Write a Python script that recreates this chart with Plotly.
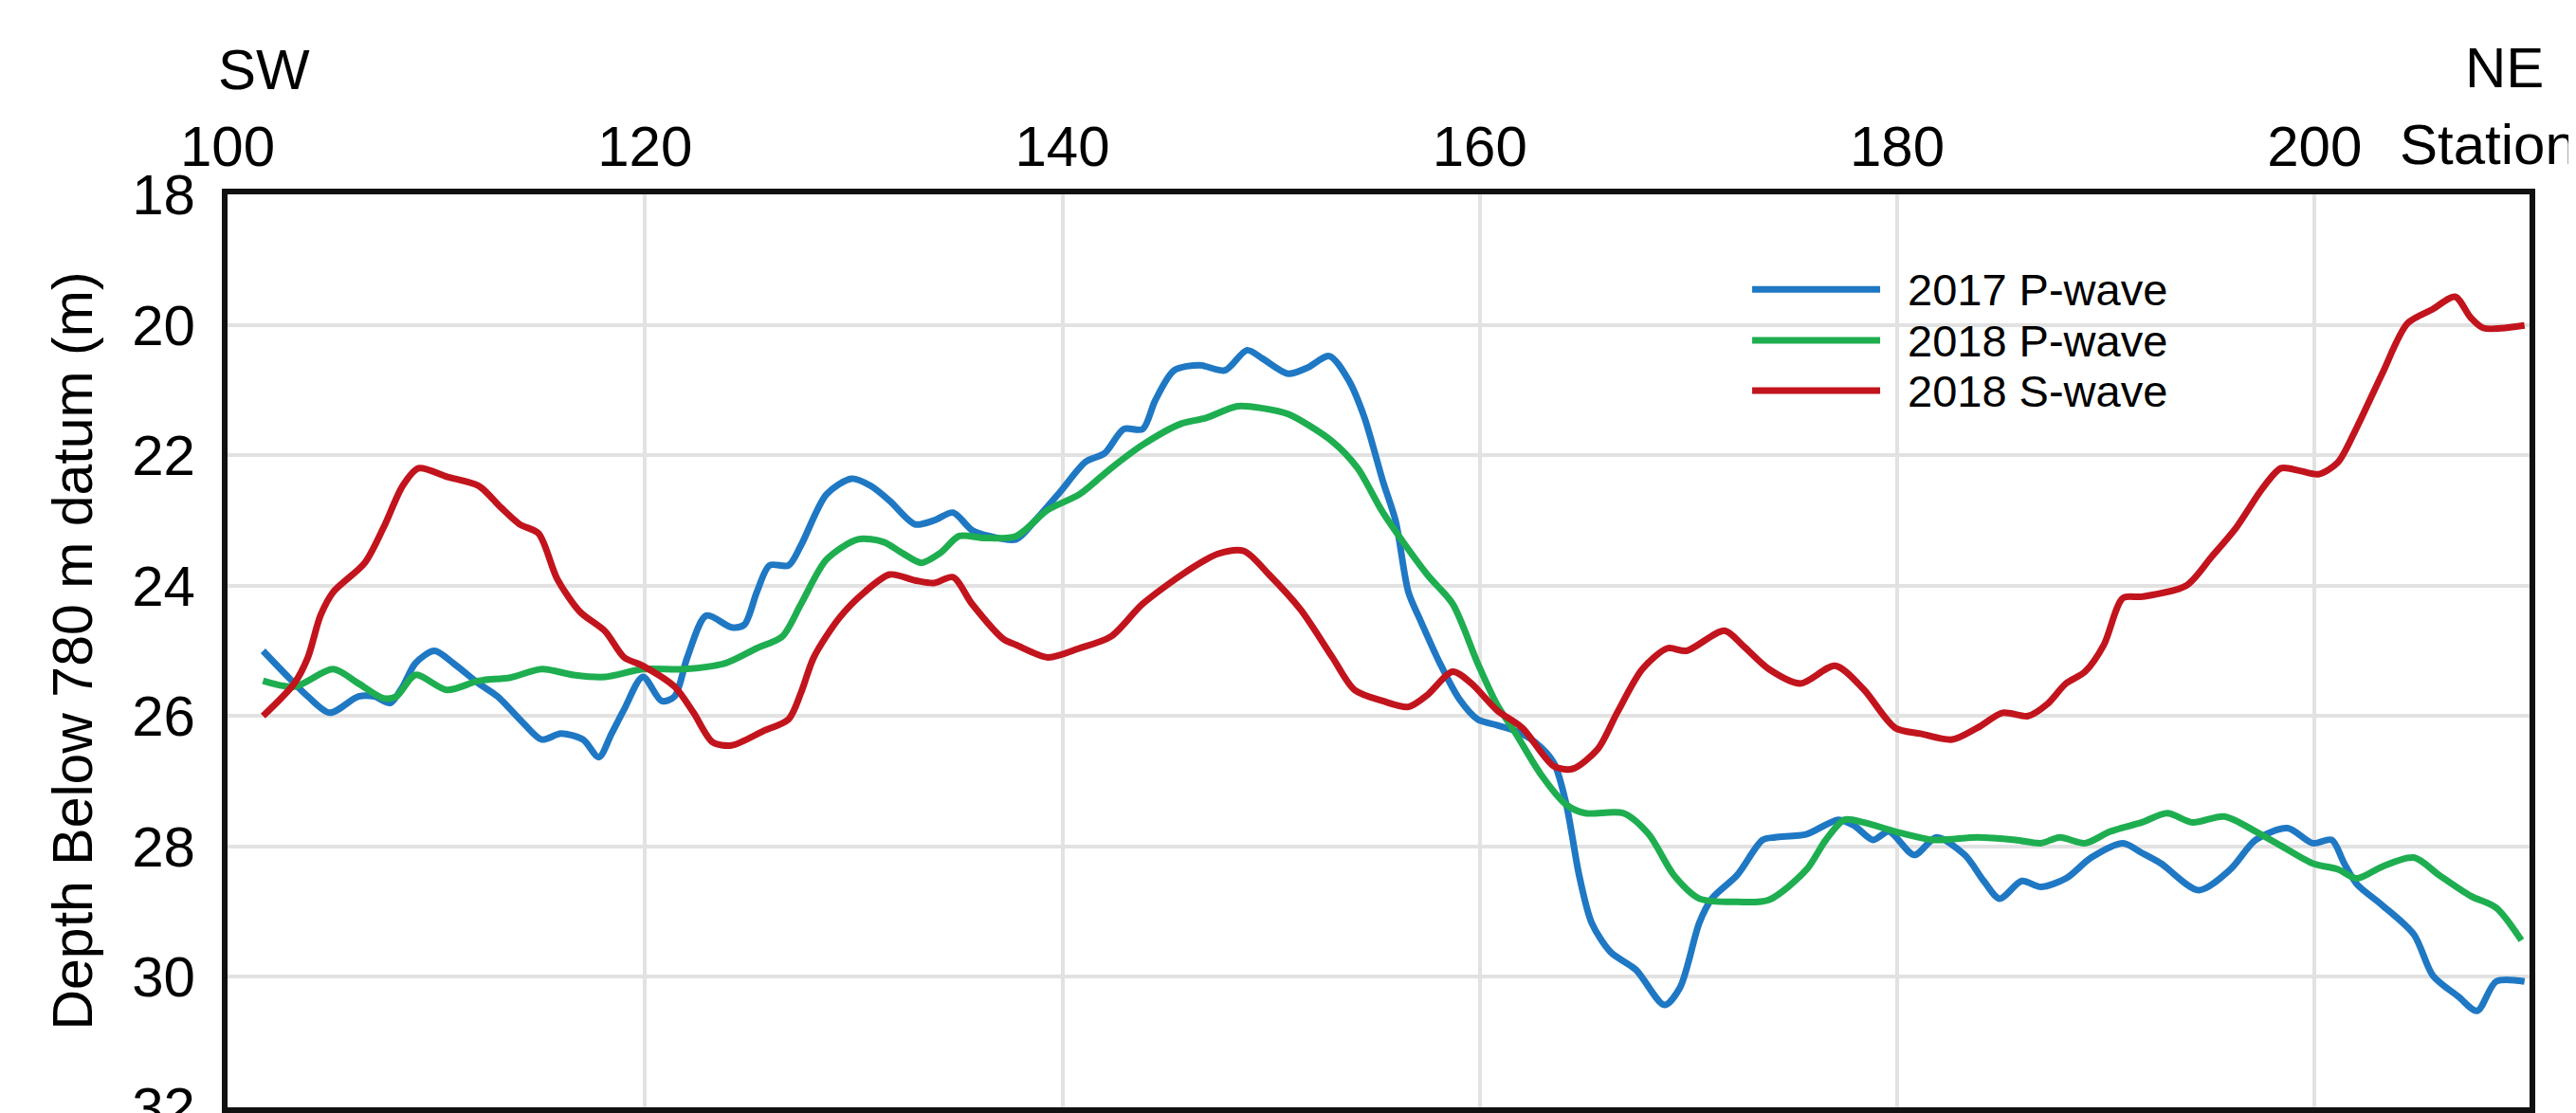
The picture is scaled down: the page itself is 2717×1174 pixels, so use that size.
import plotly.graph_objects as go

# ---- data (station, depth below 780 m datum) ----
p2017_x = [101.7, 102.9, 103.85, 104.9, 106.27, 107.03, 107.79, 108.39, 109.0, 109.91,
           110.82, 112.03, 112.94, 114.15, 115.06, 115.97, 117.03, 117.79, 118.4, 119.0,
           119.9, 120.8, 121.42, 122.03, 122.94, 124.15, 124.76, 125.36, 125.97, 126.88,
           127.48, 128.7, 129.9, 130.82, 131.73, 132.94, 133.85, 134.76, 135.67, 136.5,
           137.79, 138.7, 139.9, 141.12, 142.03, 142.94, 143.85, 144.45, 145.36, 146.58,
           147.79, 148.85, 149.6, 150.82, 151.73, 152.79, 153.7, 154.45, 155.36, 155.97,
           156.58, 157.18, 158.09, 159.0, 159.9, 160.82, 161.73, 162.64, 163.55, 164.15,
           164.76, 165.36, 166.27, 167.48, 168.85, 169.6, 170.52, 171.12, 172.33, 173.55,
           174.15, 175.67, 177.18, 177.94, 178.85, 179.6, 180.82, 181.88, 183.24, 184.15,
           184.91, 185.97, 186.88, 188.09, 189.3, 190.82, 191.73, 192.64, 194.45, 195.97,
           197.18, 198.7, 199.91, 200.82, 201.42, 202.03, 203.24, 204.76, 205.67, 206.88,
           207.79, 208.7, 210.06]
p2017_y = [25.0, 25.4, 25.7, 25.95, 25.7, 25.7, 25.8, 25.55, 25.19, 25.0,
           25.19, 25.5, 25.7, 26.1, 26.36, 26.27, 26.36, 26.63, 26.27, 25.9,
           25.4, 25.77, 25.7, 25.1, 24.46, 24.64, 24.6, 24.1, 23.69, 23.69,
           23.38, 22.6, 22.36, 22.47, 22.7, 23.06, 23.0, 22.88, 23.15, 23.24,
           23.29, 23.0, 22.56, 22.1, 21.97, 21.6, 21.6, 21.16, 20.7, 20.62,
           20.7, 20.39, 20.52, 20.75, 20.66, 20.48, 20.84, 21.4, 22.4, 23.01,
           24.1, 24.55, 25.19, 25.73, 26.05, 26.14, 26.23, 26.4, 26.72, 27.36,
           28.44, 29.17, 29.62, 29.89, 30.43, 30.16, 29.17, 28.8, 28.44, 27.9,
           27.86, 27.81, 27.59, 27.68, 27.9, 27.77, 28.13, 27.86, 28.13, 28.53,
           28.8, 28.53, 28.62, 28.49, 28.17, 27.95, 28.1, 28.26, 28.67, 28.35,
           27.9, 27.72, 27.95, 27.9, 28.26, 28.58, 28.9, 29.35, 29.98, 30.3,
           30.52, 30.07, 30.07]

p2018_x = [101.7, 103.2, 105.06, 106.27, 107.49, 108.09, 109.0, 110.51, 112.03, 113.55,
           115.06, 116.58, 118.09, 119.9, 121.88, 123.85, 125.36, 126.58, 127.48, 128.7,
           130.21, 131.42, 132.33, 133.24, 134.15, 135.06, 136.27, 137.79, 139.3, 140.82,
           142.33, 143.85, 145.67, 146.88, 148.39, 149.6, 150.82, 152.94, 154.15, 155.36,
           157.48, 158.7, 159.9, 160.82, 161.73, 162.94, 164.15, 165.06, 166.88, 168.09,
           169.3, 170.52, 172.33, 173.85, 175.67, 176.58, 177.48, 178.39, 179.9, 181.73,
           183.85, 185.67, 186.88, 187.79, 189.0, 190.21, 191.73, 192.94, 194.15, 195.67,
           197.18, 198.39, 199.91, 201.12, 202.03, 203.24, 204.76, 205.97, 207.48, 208.7,
           209.91]
p2018_y = [25.46, 25.55, 25.28, 25.5, 25.73, 25.7, 25.37, 25.6, 25.46, 25.41,
           25.28, 25.37, 25.4, 25.28, 25.28, 25.19, 24.96, 24.78, 24.28, 23.6,
           23.29, 23.33, 23.5, 23.65, 23.5, 23.24, 23.27, 23.24, 22.84, 22.6,
           22.2, 21.84, 21.52, 21.43, 21.25, 21.28, 21.37, 21.79, 22.2, 22.88,
           23.83, 24.28, 25.19, 25.82, 26.27, 26.9, 27.36, 27.49, 27.49, 27.81,
           28.44, 28.8, 28.85, 28.82, 28.35, 27.9, 27.59, 27.63, 27.77, 27.9,
           27.86, 27.9, 27.95, 27.86, 27.95, 27.77, 27.63, 27.49, 27.63, 27.54,
           27.77, 27.99, 28.26, 28.35, 28.49, 28.31, 28.17, 28.44, 28.76, 28.94,
           29.44]

s2018_x = [101.7, 103.2, 103.85, 104.45, 105.06, 106.58, 107.49, 108.39, 109.15, 110.51,
           112.03, 113.09, 114.0, 114.9, 115.8, 116.88, 118.09, 119.0, 119.9, 121.42,
           122.33, 123.24, 124.15, 125.67, 126.88, 127.48, 128.09, 129.3, 130.52, 131.73,
           132.94, 133.85, 134.76, 135.67, 137.18, 137.79, 139.3, 140.82, 142.33, 143.85,
           145.97, 147.48, 148.7, 149.9, 151.42, 152.94, 154.0, 155.36, 156.58, 157.48,
           158.7, 159.6, 160.82, 162.03, 163.55, 164.45, 165.67, 166.58, 167.79, 169.0,
           169.9, 171.73, 172.64, 173.85, 175.36, 177.03, 178.39, 179.9, 181.12, 182.64,
           183.85, 185.06, 186.27, 187.18, 188.09, 189.0, 189.9, 190.82, 191.73, 193.85,
           195.06, 196.27, 197.48, 198.39, 199.3, 200.21, 201.12, 202.03, 203.24, 204.45,
           205.67, 206.73, 207.48, 208.09, 210.06]
s2018_y = [26.0, 25.5, 25.1, 24.46, 24.1, 23.65, 23.1, 22.47, 22.2, 22.33,
           22.47, 22.8, 23.06, 23.2, 23.9, 24.4, 24.7, 25.1, 25.23, 25.55,
           25.95, 26.4, 26.45, 26.23, 26.05, 25.64, 25.1, 24.5, 24.1, 23.83,
           23.92, 23.96, 23.87, 24.28, 24.82, 24.91, 25.1, 24.96, 24.78, 24.28,
           23.78, 23.51, 23.47, 23.83, 24.37, 25.1, 25.6, 25.77, 25.86, 25.68,
           25.32, 25.5, 25.91, 26.18, 26.77, 26.81, 26.5, 25.95, 25.28, 24.96,
           25.0, 24.69, 24.93, 25.28, 25.5, 25.23, 25.59, 26.18, 26.27, 26.36,
           26.18, 25.95, 26.0, 25.82, 25.5, 25.32, 24.91, 24.19, 24.17, 24.0,
           23.56, 23.1, 22.52, 22.2, 22.24, 22.29, 22.11, 21.57, 20.75, 19.98,
           19.76, 19.57, 19.89, 20.05, 20.01]

series_names = ["2017 P-wave", "2018 P-wave", "2018 S-wave"]
series_colors = ["#1f78c3", "#1eae50", "#c2141d"]
x_ticks = [100, 120, 140, 160, 180, 200]
y_ticks = [18, 20, 22, 24, 26, 28, 30, 32]

FONT = "Liberation Sans, Arial, Helvetica, sans-serif"

fig = go.Figure()
for name, color, xs, ys in zip(series_names, series_colors,
                               [p2017_x, p2018_x, s2018_x],
                               [p2017_y, p2018_y, s2018_y]):
    fig.add_trace(go.Scatter(x=xs, y=ys, mode="lines", name=name,
                             line=dict(color=color, width=7, shape="spline", smoothing=0.8),
                             showlegend=False))

# ---- custom legend (long line samples as in the reference) ----
leg_y = [0.896, 0.840, 0.785]
for name, color, yy in zip(series_names, series_colors, leg_y):
    fig.add_shape(type="line", xref="paper", yref="paper", x0=0.6623, x1=0.7179,
                  y0=yy, y1=yy, line=dict(color=color, width=7))
    fig.add_annotation(xref="paper", yref="paper", x=0.729, y=yy, text=name,
                       showarrow=False, xanchor="left", yanchor="middle",
                       font=dict(family=FONT, size=47, color="black"))

# ---- direction / unit labels ----
for txt, xp, yp in [("SW", 0.016, 1.137), ("NE", 0.989, 1.139), ("Station", 0.982, 1.054)]:
    fig.add_annotation(xref="paper", yref="paper", x=xp, y=yp, text=txt,
                       showarrow=False, xanchor="center", yanchor="middle",
                       font=dict(family=FONT, size=60, color="black"))

fig.update_layout(
    width=2717, height=1174,
    margin=dict(l=232, r=57, t=197, b=14, autoexpand=False),
    paper_bgcolor="white", plot_bgcolor="white",
    font=dict(family=FONT, color="black"),
)
fig.update_xaxes(range=[100, 210.3], side="top", tickvals=x_ticks, automargin=False,
                 showgrid=True, gridcolor="#e2e2e2", gridwidth=4,
                 showline=True, linecolor="#111111", linewidth=6, mirror=True,
                 ticks="", zeroline=False, ticklabelstandoff=0,
                 tickfont=dict(family=FONT, size=60, color="black"))
fig.update_yaxes(range=[32, 18], tickvals=y_ticks, automargin=False,
                 showgrid=True, gridcolor="#e2e2e2", gridwidth=4,
                 showline=True, linecolor="#111111", linewidth=6, mirror=True,
                 ticks="", zeroline=False, ticklabelstandoff=16,
                 ticklabeloverflow="allow",
                 tickfont=dict(family=FONT, size=60, color="black"),
                 title=dict(text="Depth Below 780 m datum (m)", standoff=25,
                            font=dict(family=FONT, size=59, color="black")))

fig.write_html("out.html")
